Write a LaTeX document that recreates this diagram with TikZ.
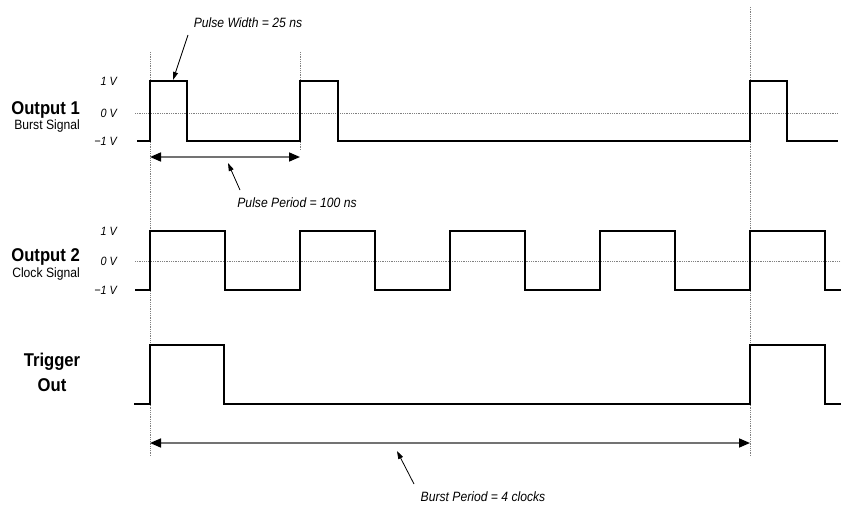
\documentclass[tikz,border=0pt]{standalone}
\usepackage{fontspec}
\setmainfont{Liberation Sans}
\newfontfamily\narrowfont[FakeStretch=0.9]{Liberation Sans}
\usetikzlibrary{arrows.meta}

\tikzset{
  wave/.style={line width=2pt, line join=miter},
  dotline/.style={densely dotted, gray, line width=0.8pt},
  span/.style={{Triangle[length=11pt,width=9pt,color=black]}-{Triangle[length=11pt,width=9pt,color=black]}, line width=1.6pt, black!55},
  pointer/.style={-{Triangle[length=8pt,width=5pt]}, line width=0.8pt},
  chan/.style={anchor=east, inner sep=0pt, font=\narrowfont\bfseries\fontsize{18.5}{20}\selectfont},
  chansub/.style={anchor=east, inner sep=0pt, font=\narrowfont\fontsize{13.5}{15}\selectfont},
  volt/.style={anchor=east, inner sep=0pt, font=\narrowfont\itshape\fontsize{12}{13}\selectfont},
  note/.style={inner sep=0pt, font=\narrowfont\itshape\fontsize{13.5}{15}\selectfont}
}

\begin{document}
\begin{tikzpicture}[x=1pt, y=-1pt]
      \useasboundingbox (0,0) rectangle (841,506);

      % markers
      \draw[dotline] (150,52) -- (150,456);
      \draw[dotline] (300,52) -- (300,150);
      \draw[dotline] (750,7) -- (750,456);

      % zero lines
      \draw[dotline] (135,113) -- (838,113);
      \draw[dotline] (135,261) -- (841,261);

      % Output 1
      \node[chan] (out1) at (80,110) {Output 1};
      \node[chansub] (out1sub) at (80,126) {Burst Signal};
      \node[volt] (o1hi) at (117,81) {1 V};
      \node[volt] (o1zero) at (117,113) {0 V};
      \node[volt] (o1lo) at (117,141) {−1 V};
      \draw[wave] (137,141) -- (150,141) -- (150,81) -- (187,81) -- (187,141)
        -- (300,141) -- (300,81) -- (338,81) -- (338,141) -- (750,141)
        -- (750,81) -- (787,81) -- (787,141) -- (838,141);

      % Output 2
      \node[chan] (out2) at (80,257) {Output 2};
      \node[chansub] (out2sub) at (80,274) {Clock Signal};
      \node[volt] (o2hi) at (117,231) {1 V};
      \node[volt] (o2zero) at (117,261) {0 V};
      \node[volt] (o2lo) at (117,290) {−1 V};
      \draw[wave] (135,290) -- (150,290) -- (150,231) -- (225,231) -- (225,290)
        -- (300,290) -- (300,231) -- (375,231) -- (375,290)
        -- (450,290) -- (450,231) -- (525,231) -- (525,290)
        -- (600,290) -- (600,231) -- (675,231) -- (675,290)
        -- (750,290) -- (750,231) -- (825,231) -- (825,290) -- (841,290);

      % Trigger out
      \node[chan, anchor=center] (trig) at (52,362) {Trigger};
      \node[chan, anchor=center] (trigout) at (52,385) {Out};
      \draw[wave] (134,404) -- (150,404) -- (150,345) -- (224,345) -- (224,404)
        -- (750,404) -- (750,345) -- (825,345) -- (825,404) -- (841,404);

      % pulse width
      \node[note] (pwidth) at (248,23) {Pulse Width = 25 ns};
      \coordinate (pw tail) at (188,35);
      \coordinate (pw tip) at (173,80);
      \draw[pointer] (pw tail) -- (pw tip);

      % pulse period
      \coordinate (pp left) at (150,157);
      \coordinate (pp right) at (300,157);
      \draw[span] (pp left) -- (pp right);
      \node[note] (pperiod) at (297,203) {Pulse Period = 100 ns};
      \coordinate (pp tail) at (240,190);
      \coordinate (pp tip) at (228,163);
      \draw[pointer] (pp tail) -- (pp tip);

      % burst period
      \coordinate (bp left) at (150,443);
      \coordinate (bp right) at (750,443);
      \draw[span] (bp left) -- (bp right);
      \node[note] (bperiod) at (483,497) {Burst Period = 4 clocks};
      \coordinate (bp tail) at (414,484);
      \coordinate (bp tip) at (397,451);
      \draw[pointer] (bp tail) -- (bp tip);
\end{tikzpicture}
\end{document}
